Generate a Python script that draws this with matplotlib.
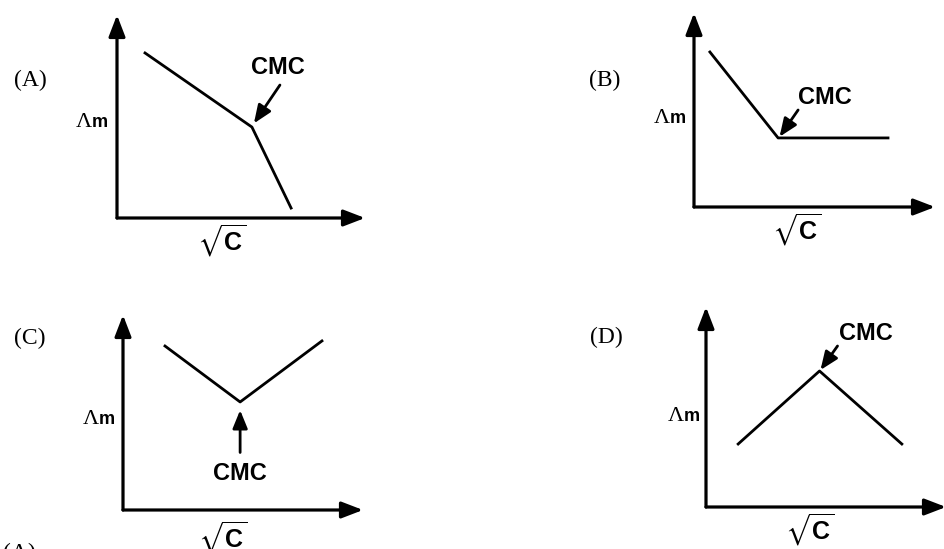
import matplotlib
matplotlib.use("Agg")
import matplotlib.pyplot as plt

W, H = 944, 549
plt.rcParams['mathtext.fontset'] = 'custom'
plt.rcParams['mathtext.bf'] = 'Liberation Sans:bold'
plt.rcParams['mathtext.rm'] = 'Liberation Sans'
plt.rcParams['mathtext.fallback'] = 'stix'

# conductivity vs sqrt(C) sketches, arbitrary units on a 0-10 grid
curve_a_x = [1.13, 5.44, 7.02]
curve_a_y = [8.13, 4.48, 0.49]
curve_b_x = [0.66, 3.49, 8.05]
curve_b_y = [7.99, 3.56, 3.56]
curve_c_x = [1.75, 4.88, 8.29]
curve_c_y = [8.41, 5.54, 8.67]
curve_d_x = [1.34, 4.73, 8.16]
curve_d_y = [3.15, 6.80, 3.15]

# CMC pointer: label position and arrow tail -> head
cmc_a = dict(text=(6.49, 7.39), tail=(6.57, 6.55), head=(5.52, 4.66))
cmc_b = dict(text=(5.44, 5.62), tail=(4.32, 5.00), head=(3.55, 3.62))
cmc_c = dict(text=(4.88, 1.85), tail=(4.88, 2.95), head=(4.88, 5.12))
cmc_d = dict(text=(6.65, 8.70), tail=(5.48, 8.05), head=(4.77, 6.85))


def fx(px):
    return px / W


def fy(py):
    return 1 - py / H


fig = plt.figure(figsize=(W / 100, H / 100), dpi=100)


def panel(letter, origin, tip_x, tip_y, xs, ys, cmc, lbl, lam, sq):
    x0, y0 = origin
    ax = fig.add_axes([fx(x0), fy(y0), (tip_x - x0) / W, (y0 - tip_y) / H])
    ax.set_xlim(0, 10)
    ax.set_ylim(0, 10)
    ax.axis('off')
    head = dict(arrowstyle='-|>,head_length=1.3,head_width=0.5', lw=2.3,
                color='black', mutation_scale=10, shrinkA=0, shrinkB=0)
    # axes drawn as arrows
    ax.annotate('', xy=(1, 0), xytext=(0, 0), xycoords='axes fraction',
                arrowprops=head, annotation_clip=False)
    ax.annotate('', xy=(0, 1), xytext=(0, 0), xycoords='axes fraction',
                arrowprops=head, annotation_clip=False)
    ax.plot(xs, ys, color='black', lw=2.0, clip_on=False)
    ax.annotate('', xy=cmc['head'], xytext=cmc['tail'],
                arrowprops=dict(arrowstyle='-|>,head_length=1.1,head_width=0.45',
                                lw=2.0, color='black', mutation_scale=10,
                                shrinkA=0, shrinkB=0),
                annotation_clip=False)
    ax.text(*cmc['text'], 'CMC', ha='center', va='center', fontsize=17,
            fontweight='bold', family='Liberation Sans')
    fig.text(fx(lbl[0]), fy(lbl[1]), f'({letter})', ha='center', va='center',
             fontsize=17, family='Liberation Serif')
    # molar conductivity symbol: serif Lambda, sans "m" on the same baseline
    fig.text(fx(lam[0] + 2), fy(lam[1] + 6), 'Λ', ha='right', va='baseline',
             fontsize=16, family='Liberation Serif')
    fig.text(fx(lam[0] + 2), fy(lam[1] + 6), 'm', ha='left', va='baseline',
             fontsize=13, fontweight='bold', family='Liberation Sans')
    fig.text(fx(sq[0]), fy(sq[1]), r'$\sqrt{\mathbf{C}}$', ha='center',
             va='center', fontsize=18)
    return ax


panel('A', (117, 218), 365, 15, curve_a_x, curve_a_y, cmc_a,
      (30, 80), (90, 121), (222, 241))
panel('B', (694, 207), 935, 13, curve_b_x, curve_b_y, cmc_b,
      (605, 80), (668, 117), (797, 230))
panel('C', (123, 510), 363, 315, curve_c_x, curve_c_y, cmc_c,
      (30, 338), (97, 418), (223, 538))
panel('D', (706, 507), 946, 307, curve_d_x, curve_d_y, cmc_d,
      (606, 337), (682, 415), (810, 530))

# next question's label, cut off at the bottom edge
fig.text(fx(3), fy(543), '(A)', ha='left', va='top', fontsize=17,
         family='Liberation Serif')

fig.savefig('out.png', dpi=100, facecolor='white')
